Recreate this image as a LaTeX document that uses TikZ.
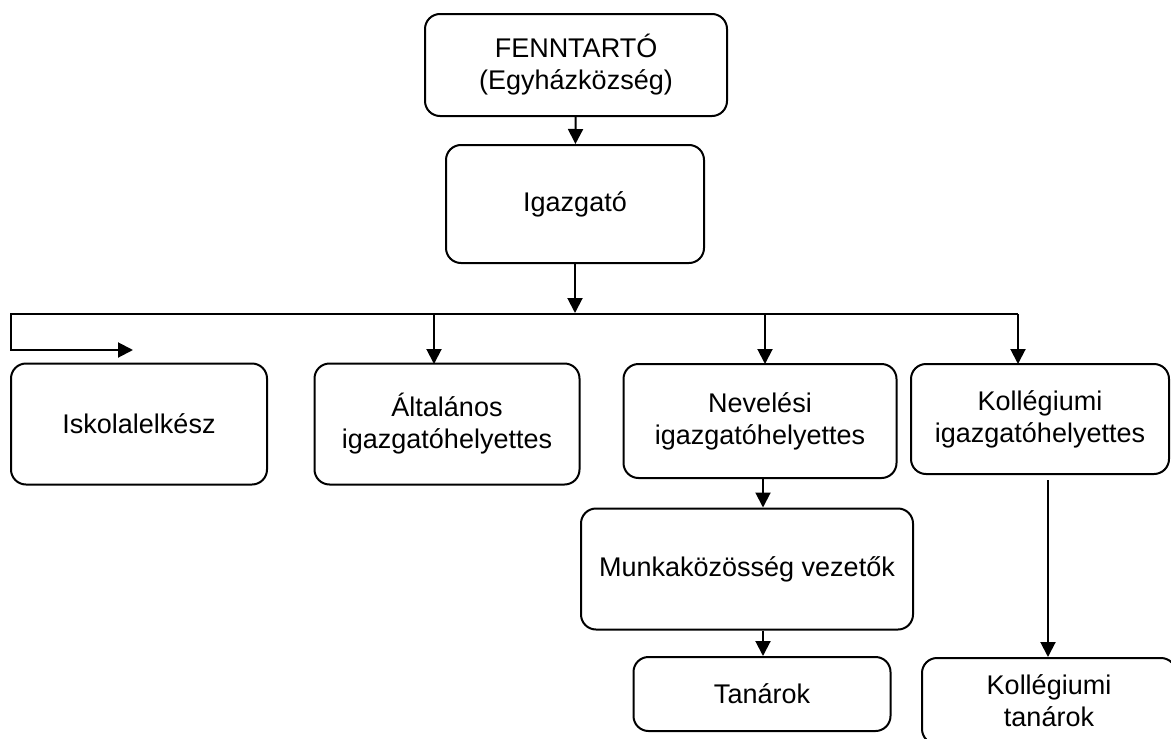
\documentclass[tikz,border=0pt]{standalone}
\usepackage{fontspec}
\setmainfont{Liberation Sans}
\usetikzlibrary{arrows.meta, positioning, calc}

\tikzset{
  doboz/.style={draw, line width=2pt, rounded corners=15pt, align=center, inner sep=0pt},
  nyil/.style={line width=2pt, -{Triangle[length=15pt,width=15pt]}},
  vonal/.style={line width=2pt}
}

\begin{document}
\begin{tikzpicture}[x=1pt, y=-1pt, font=\fontsize{27}{32}\selectfont]
  \useasboundingbox (0,0) rectangle (1171,739);

  % ---------- vezetés ----------
  \node[doboz, minimum width=302pt, minimum height=102pt] (fenn) at (576,65) {FENNTARTÓ\\(Egyházközség)};
  \node[doboz, minimum width=258pt, minimum height=118pt] (igaz) at (575,204) {Igazgató};

  % ---------- helyettesek ----------
  \node[doboz, minimum width=256pt, minimum height=121pt] (iskola) at (139,424) {Iskolalelkész};
  \node[doboz, minimum width=265pt, minimum height=121pt] (alt) at (447,424) {Általános\\igazgatóhelyettes};
  \node[doboz, minimum width=273pt, minimum height=114pt] (nev) at (760,421) {Nevelési\\igazgatóhelyettes};
  \node[doboz, minimum width=258pt, minimum height=110pt] (kollig) at (1040,419) {Kollégiumi\\igazgatóhelyettes};

  % ---------- alsó szint ----------
  \node[doboz, minimum width=332pt, minimum height=121pt] (munka) at (747,569) {Munkaközösség vezetők};
  \node[doboz, minimum width=257pt, minimum height=74pt] (tanar) at (762,694) {Tanárok};
  \node[doboz, minimum width=254pt, minimum height=86pt] (kolltan) at (1049,701) {Kollégiumi\\tanárok};

  % ---------- elosztó vonal ----------
  \coordinate (sinB) at (11,314);
  \coordinate (sinJ) at (1018,314);
  \coordinate (iskVeg) at (133,350);
  \coordinate (kollFel) at (1048,480);

  \draw[nyil] (fenn) -- (igaz);
  \draw[nyil] (igaz.south) -- ++(0,49);
  \draw[nyil] (sinJ) -- (sinB) |- (iskVeg);
  \foreach \x/\cel in {434/alt, 765/nev, 1018/kollig}{
    \draw[nyil] (\x,314) -- (\x,364);
  }
  \draw[nyil] (nev.south -| 763,0) -- (munka.north -| 763,0);
  \draw[nyil] (munka.south -| 763,0) -- (tanar.north -| 763,0);
  \draw[nyil] (kollFel) -- (kollFel |- kolltan.north);
\end{tikzpicture}
\end{document}
